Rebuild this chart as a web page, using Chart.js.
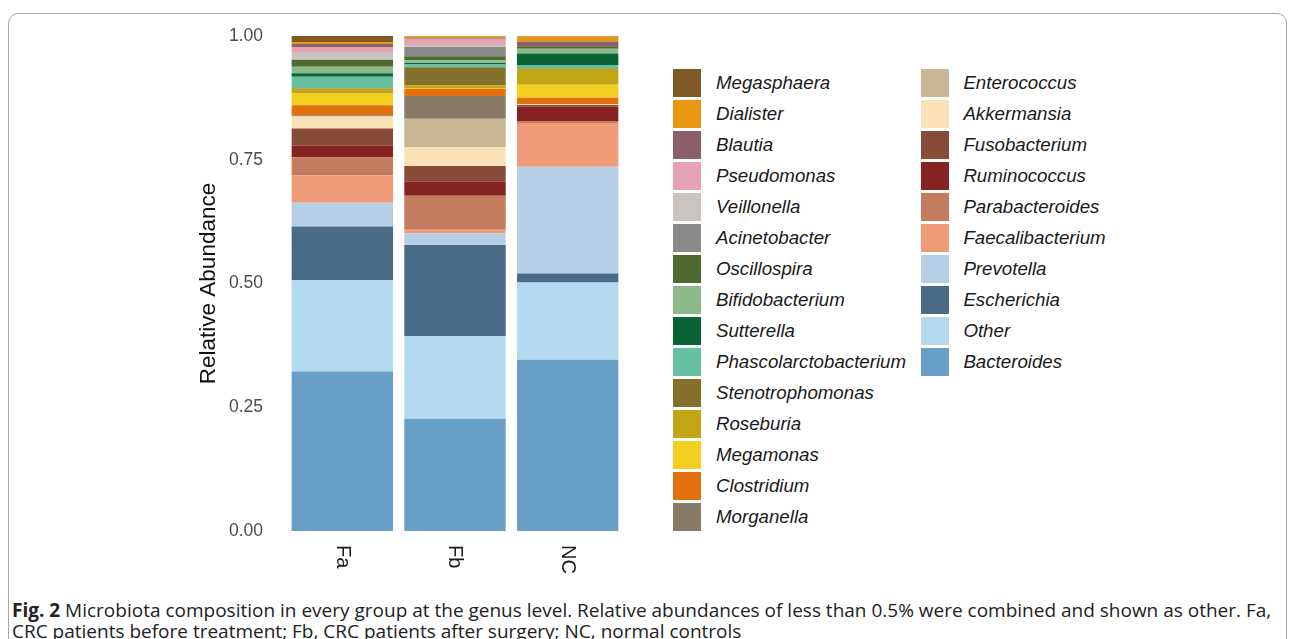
<!DOCTYPE html>
<html>
<head>
<meta charset="utf-8">
<script src="https://cdn.jsdelivr.net/npm/chart.js@4.4.1/dist/chart.umd.min.js"></script>
<style>
  html, body { margin: 0; padding: 0; background: #fff; }
  body { width: 1290px; height: 639px; position: relative; overflow: hidden; }
  #frame { position: absolute; left: 8px; top: 13px; width: 1279px; height: 700px;
           border: 1px solid #a8a8a8; border-radius: 10px; box-sizing: border-box; }
  #wrap { position: absolute; left: 0; top: 0; width: 660px; height: 590px; }
  #legend { position: absolute; left: 0; top: 0; }
  .item { position: absolute; height: 28px; display: flex; align-items: center; }
  .box { width: 28px; height: 28px; margin-right: 14.7px; }
  .lbl { font: italic 18.7px "Liberation Sans", Arial, sans-serif; color: #1a1a1a; white-space: nowrap; }
  #caption { position: absolute; left: 12px; top: 600px; font: 19px "Open Sans", sans-serif;
             line-height: 21px; color: #222; white-space: nowrap; }
</style>
</head>
<body>
<div id="frame"></div>
<div id="wrap"><canvas id="chart" width="660" height="590"></canvas></div>
<div id="legend"></div>
<div id="caption"><b>Fig. 2</b> Microbiota composition in every group at the genus level. Relative abundances of less than 0.5% were combined and shown as other. Fa,<br>CRC patients before treatment; Fb, CRC patients after surgery; NC, normal controls</div>
<script>
// groups on the x axis
const groups = ['Fa', 'Fb', 'NC'];

// genera, bottom of the stack first
const genera = ['Bacteroides', 'Other', 'Escherichia', 'Prevotella', 'Faecalibacterium',
  'Parabacteroides', 'Ruminococcus', 'Fusobacterium', 'Akkermansia', 'Enterococcus',
  'Morganella', 'Clostridium', 'Megamonas', 'Roseburia', 'Stenotrophomonas',
  'Phascolarctobacterium', 'Sutterella', 'Bifidobacterium', 'Oscillospira', 'Acinetobacter',
  'Veillonella', 'Pseudomonas', 'Blautia', 'Dialister', 'Megasphaera'];

// relative abundance per group, same order as genera
const faValues = [0.322, 0.185, 0.108, 0.048, 0.055, 0.037, 0.024, 0.034, 0.024, 0.001,
  0.002, 0.020, 0.024, 0.0095, 0.001, 0.023, 0.007, 0.0135, 0.0135, 0.001,
  0.015, 0.0095, 0.007, 0.004, 0.012];
const fbValues = [0.227, 0.167, 0.184, 0.0235, 0.007, 0.069, 0.028, 0.032, 0.038, 0.0575,
  0.046, 0.014, 0.002, 0.005, 0.037, 0.0055, 0.003, 0.0055, 0.008, 0.019,
  0.004, 0.012, 0.001, 0.004, 0.001];
const ncValues = [0.346, 0.156, 0.018, 0.216, 0.0865, 0.006, 0.029, 0.003, 0.002, 0,
  0, 0.013, 0.026, 0.032, 0.001, 0.007, 0.023, 0.0095, 0.0055, 0,
  0, 0, 0.0095, 0.010, 0.001];

const yTicks = [0, 0.25, 0.5, 0.75, 1];

const colors = ['#679fc6', '#b3d9ee', '#4a6b87', '#b7cfe6', '#f09b78',
  '#c47c5e', '#862222', '#874b38', '#fbe1b6', '#c8b792',
  '#877b66', '#e2700f', '#f3cf1f', '#c2a615', '#82702b',
  '#65c1a2', '#0a6333', '#8bb98a', '#4e6a30', '#8a8a8a',
  '#cbc3bd', '#e5a3b2', '#8a5f6a', '#e8960f', '#7f5a26'];

const datasets = genera.map((g, i) => ({
  label: g,
  data: [faValues[i], fbValues[i], ncValues[i]],
  backgroundColor: colors[i],
  borderWidth: 0,
  barPercentage: 0.9,
  categoryPercentage: 1
}));

// x labels rotated clockwise (top-to-bottom), as in the figure
const rotatedXLabels = {
  id: 'rotatedXLabels',
  afterDraw(chart) {
    const ctx = chart.ctx;
    const xs = chart.scales.x;
    ctx.save();
    ctx.font = '20px "Liberation Sans", Arial, sans-serif';
    ctx.fillStyle = '#1a1a1a';
    ctx.textAlign = 'left';
    ctx.textBaseline = 'middle';
    groups.forEach((g, i) => {
      ctx.save();
      ctx.translate(xs.getPixelForValue(i), chart.chartArea.bottom + 14);
      ctx.rotate(Math.PI / 2);
      ctx.fillText(g, 0, 0);
      ctx.restore();
    });
    ctx.restore();
  }
};

const chart = new Chart(document.getElementById('chart'), {
  type: 'bar',
  data: { labels: groups, datasets: datasets },
  options: {
    responsive: false,
    animation: false,
    layout: { padding: { left: 195, top: 36, right: 36, bottom: 51 } },
    plugins: { legend: { display: false }, tooltip: { enabled: false } },
    scales: {
      x: {
        stacked: true,
        grid: { display: false },
        border: { display: false },
        ticks: { display: false }
      },
      y: {
        stacked: true,
        min: 0,
        max: 1,
        afterBuildTicks: s => { s.ticks = yTicks.map(v => ({ value: v })); },
        afterFit: s => { s.width = 91; },
        grid: { display: false },
        border: { display: false },
        ticks: {
          padding: 15,
          color: '#4d4d4d',
          font: { family: '"Liberation Sans", Arial, sans-serif', size: 17.5 },
          callback: v => Number(v).toFixed(2)
        },
        title: {
          display: true,
          text: 'Relative Abundance',
          color: '#111',
          padding: { top: 0, bottom: 0 },
          font: { family: '"Liberation Sans", Arial, sans-serif', size: 22.5 }
        }
      }
    }
  },
  plugins: [rotatedXLabels]
});

// legend in two columns, top of the stack first
const legendEl = document.getElementById('legend');
const items = chart.data.datasets.slice().reverse();
items.forEach((ds, i) => {
  const col = i < 15 ? 0 : 1;
  const row = i % 15;
  const div = document.createElement('div');
  div.className = 'item';
  div.style.left = (col === 0 ? 673.3 : 920.7) + 'px';
  div.style.top = (69.3 + row * 31) + 'px';
  div.innerHTML = '<span class="box" style="background:' + ds.backgroundColor + '"></span>' +
    '<span class="lbl">' + ds.label + '</span>';
  legendEl.appendChild(div);
});
</script>
</body>
</html>
